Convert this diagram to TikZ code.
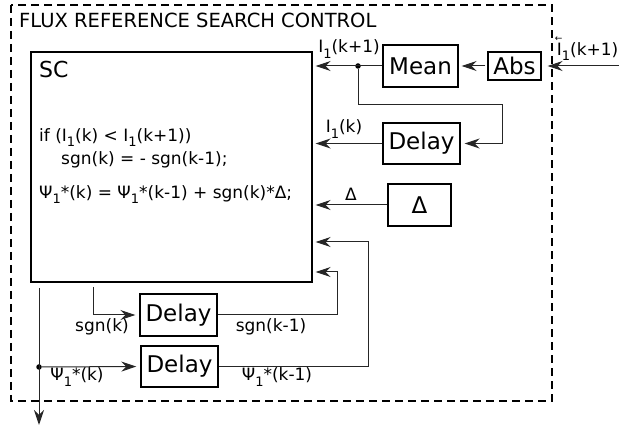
\documentclass[tikz,border=0pt]{standalone}
\usepackage{fontspec}
\setmainfont{DejaVu Sans}
\usetikzlibrary{arrows.meta, positioning, calc}

\newcommand\lowone{\raisebox{-0.32em}{\fontsize{13}{13}\selectfont 1}}
\newcommand\ione{I\lowone}
\newcommand\psione{Ψ\lowone}
\newcommand\iarrow{\rlap{\raisebox{0.8em}{\hspace{-2pt}\fontsize{9}{9}\selectfont ←}}I\lowone}

\begin{document}
\begin{tikzpicture}[x=1pt, y=-1pt,
  every node/.style = {font=\fontsize{17}{23}\selectfont},
  block/.style = {draw, line width=1.4pt, inner sep=0pt, font=\fontsize{23}{23}\selectfont},
  wire/.style = {draw, line width=1pt, black!85},
  arr/.style = {-{Stealth[length=15pt, width=10pt, inset=5pt]}},
  lbl/.style = {inner sep=0pt},
  dot/.style = {circle, fill, inner sep=0pt, minimum size=5.5pt}]
  \useasboundingbox (0,0) rectangle (619,427);
  % outer frame
  \draw[line width=1.4pt, dash pattern=on 8pt off 5pt] (11,5) rectangle (552,401);
  \node[anchor=west, inner sep=0pt, font=\fontsize{19.5}{20}\selectfont] (title) at (19,20) {FLUX REFERENCE SEARCH CONTROL};
  % blocks
  \node[block, minimum width=281pt, minimum height=230pt] (sc) at (171.5,167) {};
  \node[anchor=west, inner sep=0pt, font=\fontsize{22}{22}\selectfont] (sctitle) at (39,69) {SC};
  \node[anchor=north west, align=left, inner sep=0pt] (code) at (39,128)
    {if (\ione(k) < \ione(k+1))\\
     \hspace*{22pt}sgn(k) = - sgn(k-1);\\[11pt]
     \psione*(k) = \psione*(k-1) + sgn(k)*Δ;};
  \node[block, minimum width=75pt, minimum height=42pt] (mean) at (420.5,66) {Mean};
  \node[block, minimum width=53pt, minimum height=28pt] (abs) at (514.5,66) {Abs};
  \node[block, minimum width=77pt, minimum height=41pt] (delayA) at (421.5,143.5) {Delay};
  \node[block, minimum width=63pt, minimum height=42pt] (delta) at (419.5,205) {Δ};
  \node[block, minimum width=77pt, minimum height=42pt] (delayB) at (178.5,315) {Delay};
  \node[block, minimum width=77pt, minimum height=41pt] (delayC) at (179.5,366.5) {Delay};
  % points
  \coordinate (input) at (619,66);
  \node[dot] (split) at (358,66) {};
  \coordinate (sgnout) at (93,287);
  \coordinate (psiout) at (39,288);
  \node[dot] (psidot) at (39,367) {};
  \coordinate (psiend) at (39,425);
  % labels
  \node[lbl, anchor=east] (lblin) at (618.5,49) {\iarrow(k+1)};
  \node[lbl] (lblmean) at (349,49) {\ione(k+1)};
  \node[lbl] (lbldelay) at (344,129) {\ione(k)};
  \node[lbl] (lbldelta) at (351,194) {Δ};
  \node[lbl] (lblsgn) at (102,327) {sgn(k)};
  \node[lbl] (lblsgnold) at (271,327) {sgn(k-1)};
  \node[lbl] (lblpsi) at (77,377) {\psione*(k)};
  \node[lbl] (lblpsiold) at (277,377) {\psione*(k-1)};
  % connectors
  \draw[wire, arr, shorten >=6pt] (input) -- (abs.east);
  \draw[wire, arr, shorten >=3pt, shorten <=2pt] (abs.west) -- (mean.east);
  \draw[wire, arr, shorten >=3pt] (mean.west) -- (sc.east |- mean.west);
  \draw[wire, arr, shorten >=4pt] (split) |- (358,105) -| (502,143.5) -- (delayA.east);
  \draw[wire, arr, shorten >=3pt] (delayA.west) -- (sc.east |- delayA.west);
  \draw[wire, arr, shorten >=3pt] (delta.west) -- (sc.east |- delta.west);
  \draw[wire, arr, shorten >=4pt] (sgnout) |- (delayB.west);
  \draw[wire, arr, shorten >=3pt] (delayB.east) -| (337,272) -- (sc.east |- 0,272);
  \draw[wire, arr, shorten >=3pt] (delayC.east) -| (368,242) -- (sc.east |- 0,242);
  \draw[wire, arr] (psiout) -- (psiend);
  \draw[wire, arr, shorten >=4pt] (psidot) -- (delayC.west);
\end{tikzpicture}
\end{document}
